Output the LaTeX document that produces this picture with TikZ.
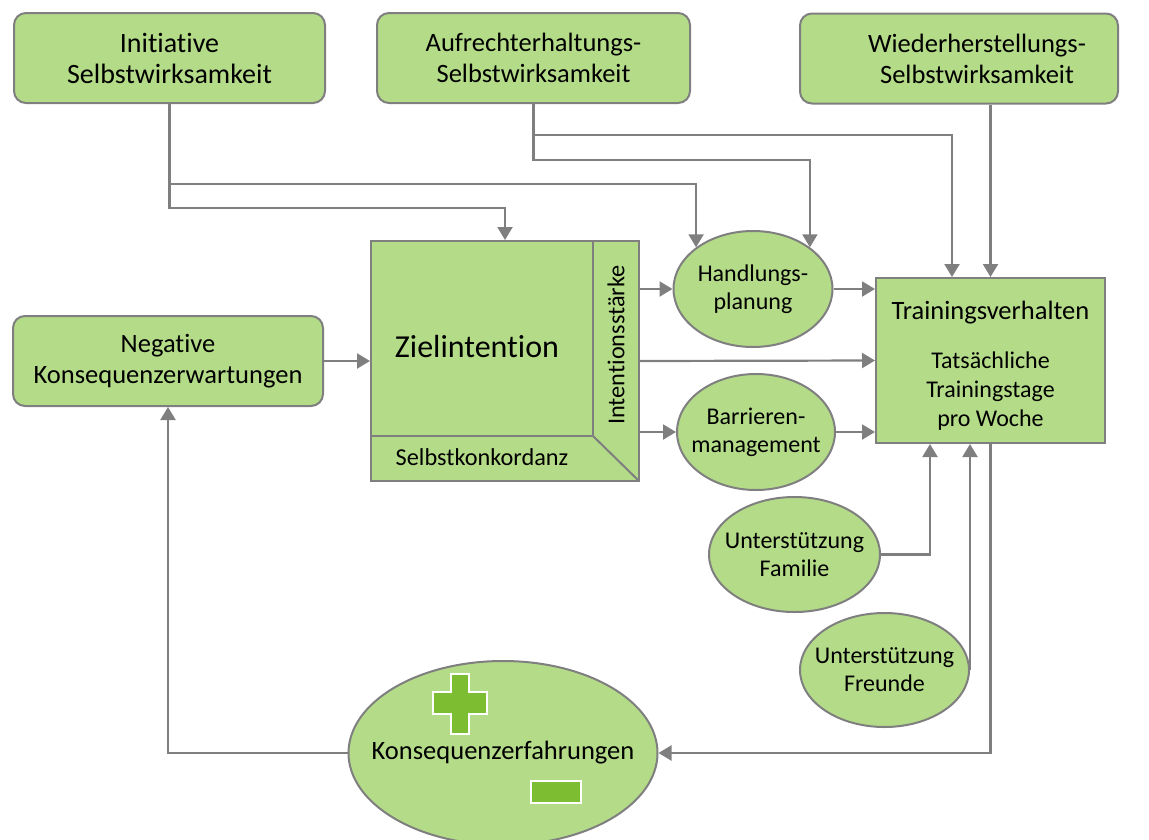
\documentclass[tikz,border=0pt]{standalone}
\usepackage{fontspec}
\setmainfont{Carlito}[Ligatures=NoCommon]
\usetikzlibrary{shapes.geometric,arrows.meta}
\definecolor{boxgreen}{HTML}{B4DC88}
\definecolor{edgegray}{HTML}{7F7F7F}
\definecolor{signgreen}{HTML}{7CBD31}
\tikzset{
  base/.style={draw=edgegray, line width=2pt, fill=boxgreen, align=center, text=black, inner sep=0pt},
  boxfont/.style={font=\fontsize{26.5}{31}\selectfont},
  rbox/.style={base, rectangle, rounded corners=12pt, minimum width=311pt, minimum height=90pt, boxfont},
  oval/.style={base, ellipse},
  label/.style={text=black, inner sep=0pt, align=center},
  ovaltext/.style={label, font=\fontsize{24}{28}\selectfont},
  arr/.style={draw=edgegray, line width=2.2pt, -{Triangle[length=13pt,width=15pt]}},
  plainline/.style={draw=edgegray, line width=2pt},
  sign/.style={fill=signgreen, draw=white, line width=2pt},
}
\begin{document}
\begin{tikzpicture}[x=1pt,y=-1pt]
\useasboundingbox (0,0) rectangle (1149,839);

% self-efficacy boxes
\node[rbox, font=\fontsize{28}{31}\selectfont] (Init) at (169.5,58) {Initiative\\Selbstwirksamkeit};
\node[rbox, minimum width=313pt] (Aufr) at (533.5,58) {Aufrechterhaltungs-\\Selbstwirksamkeit};
\node[rbox, minimum width=318pt] (Wied) at (959,58.5) {};
\node[label, boxfont] (WiedT) at ([xshift=18pt]Wied.center) {Wiederherstellungs-\\Selbstwirksamkeit};
\node[rbox, minimum width=310pt] (Neg) at (168,361) {Negative\\Konsequenzerwartungen};

% goal intention block with its two side strips
\node[base, rectangle, minimum width=268pt, minimum height=240pt] (Ziel) at (505,361) {};
\draw[plainline] (593,241) -- (593,436) -- (371,436);
\draw[plainline] (593,436) -- (639,481);
\node[label, font=\fontsize{32}{36}\selectfont] (ZielT) at (477,347) {Zielintention};
\node[label, font=\fontsize{24.3}{27}\selectfont] (Konk) at (482,457) {Selbstkonkordanz};
\node[label, font=\fontsize{24.3}{27}\selectfont, rotate=90] (Staerke) at (616,345) {Intentionsstärke};

% planning and barrier management
\node[oval, minimum width=159pt, minimum height=116pt] (Hand) at (753,289) {};
\node[ovaltext] (HandT) at (Hand) {Handlungs-\\planung};
\node[oval, minimum width=158pt, minimum height=116pt] (Barr) at (756,432) {};
\node[ovaltext] (BarrT) at (Barr) {Barrieren-\\management};

% training behaviour
\node[base, rectangle, minimum width=229pt, minimum height=165pt] (Train) at (990.5,360.5) {};
\node[label, font=\fontsize{26.5}{30}\selectfont] (TrainT) at (990.5,313) {Trainingsverhalten};
\node[label, font=\fontsize{24}{29}\selectfont] (TrainS) at (990.5,391) {Tatsächliche\\Trainingstage\\pro Woche};

% social support
\node[oval, minimum width=171pt, minimum height=115pt] (Fam) at (794.5,554.5) {};
\node[ovaltext] (FamT) at (Fam) {Unterstützung\\Familie};
\node[oval, minimum width=169pt, minimum height=114pt] (Freu) at (884.5,670) {};
\node[ovaltext] (FreuT) at (Freu) {Unterstützung\\Freunde};

% experienced consequences
\node[oval, minimum width=309pt, minimum height=184pt] (Kons) at (503,753) {};
\node[label, font=\fontsize{26.5}{30}\selectfont] (KonsT) at (Kons) {Konsequenzerfahrungen};
\draw[sign] (451,674) -- (469,674) -- (469,692) -- (487,692) -- (487,714) -- (469,714)
  -- (469,734) -- (451,734) -- (451,714) -- (433,714) -- (433,692) -- (451,692) -- cycle;
\draw[sign] (531,781) rectangle (581,803);

% connectors
\draw[arr] (Init.south) -- ++(0,104) -| (Ziel.north);
\draw[arr] (Init.south) -- ++(0,80) -| (Hand.north west);
\draw[arr] (Aufr.south) -- ++(0,31) -| ([xshift=-38.5pt]Train.north);
\draw[arr] (Aufr.south) -- ++(0,56) -| (Hand.north east);
\draw[arr] (Wied.south -| Train.north) -- (Train.north);
\draw[arr] (Neg.east) -- (Ziel.west);
\draw[arr] (Ziel.east |- Hand.west) -- (Hand.west);
\draw[arr] (Ziel.east) -- (Train.west);
\draw[arr] (Ziel.east |- Barr.west) -- (Barr.west);
\draw[arr] (Hand.east) -- (Hand.east -| Train.west);
\draw[arr] (Barr.east) -- (Barr.east -| Train.west);
\draw[arr] (Fam.east) -| ([xshift=-60.5pt]Train.south);
\draw[arr] (Freu.east) -- (Freu.east |- Train.south);
\draw[arr] (Train.south) |- (Kons.east);
\draw[arr] (Kons.west) -| (Neg.south);
\end{tikzpicture}
\end{document}
